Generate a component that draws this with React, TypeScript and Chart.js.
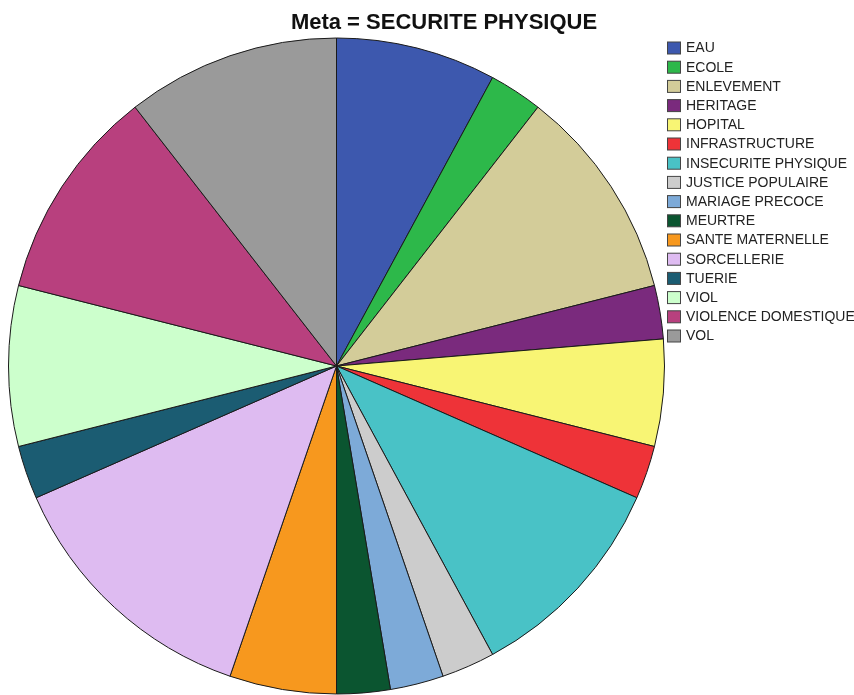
import React, { useEffect, useRef } from "react";
import { Chart, registerables } from "chart.js";

Chart.register(...registerables);

const TITLE = "Meta = SECURITE PHYSIQUE";

const categories = [
  "EAU",
  "ECOLE",
  "ENLEVEMENT",
  "HERITAGE",
  "HOPITAL",
  "INFRASTRUCTURE",
  "INSECURITE PHYSIQUE",
  "JUSTICE POPULAIRE",
  "MARIAGE PRECOCE",
  "MEURTRE",
  "SANTE MATERNELLE",
  "SORCELLERIE",
  "TUERIE",
  "VIOL",
  "VIOLENCE DOMESTIQUE",
  "VOL",
];

const counts = [3, 1, 4, 1, 2, 1, 4, 1, 1, 1, 2, 5, 1, 3, 4, 4];

const colors = [
  "#3D58AE",
  "#2DB84A",
  "#D3CC99",
  "#7A2A7D",
  "#F8F574",
  "#EE3338",
  "#49C2C6",
  "#CCCCCC",
  "#7DAAD8",
  "#0B5530",
  "#F7981E",
  "#DEBBF1",
  "#1B5C72",
  "#CCFFCC",
  "#B8407E",
  "#9A9A9A",
];

const overlayPlugin = {
  id: "spssOverlay",
  afterDraw(chart: any) {
    const ctx = chart.ctx as CanvasRenderingContext2D;
    ctx.save();
    // Title
    ctx.fillStyle = "#111";
    ctx.font = "bold 22px 'Liberation Sans', Arial, sans-serif";
    ctx.textAlign = "center";
    ctx.textBaseline = "alphabetic";
    ctx.fillText(TITLE, 444, 29);

    // Legend
    const labels: string[] = chart.data.labels;
    const bg: string[] = chart.data.datasets[0].backgroundColor;
    ctx.font = "14px 'Liberation Sans', Arial, sans-serif";
    ctx.textAlign = "left";
    ctx.textBaseline = "middle";
    labels.forEach((lab, i) => {
      const y = 41.5 + i * 19.2;
      ctx.fillStyle = bg[i];
      ctx.fillRect(667.5, y + 0.5, 13, 12);
      ctx.strokeStyle = "#444";
      ctx.lineWidth = 1;
      ctx.strokeRect(667.5, y + 0.5, 13, 12);
      ctx.fillStyle = "#222";
      ctx.fillText(lab, 686, y + 7);
    });
    ctx.restore();
  },
};

export default function App() {
  const ref = useRef<HTMLCanvasElement | null>(null);
  useEffect(() => {
    if (!ref.current) return;
    const chart = new Chart(ref.current, {
      type: "pie",
      data: {
        labels: categories,
        datasets: [
          {
            data: counts,
            backgroundColor: colors,
            borderColor: "#1a1a1a",
            borderWidth: 1,
          },
        ],
      },
      options: {
        animation: false,
        responsive: false,
        maintainAspectRatio: false,
        layout: { padding: { left: 8, top: 37, right: 189, bottom: 0 } },
        plugins: {
          legend: { display: false },
          title: { display: false },
          tooltip: { enabled: false },
        },
      },
      plugins: [overlayPlugin],
    });
    return () => chart.destroy();
  }, []);
  return (
    <div style={{ position: "absolute", left: 0, top: 0, width: 854, height: 695, background: "#fff" }}>
      <canvas ref={ref} width={854} height={695} style={{ width: 854, height: 695 }} />
    </div>
  );
}
